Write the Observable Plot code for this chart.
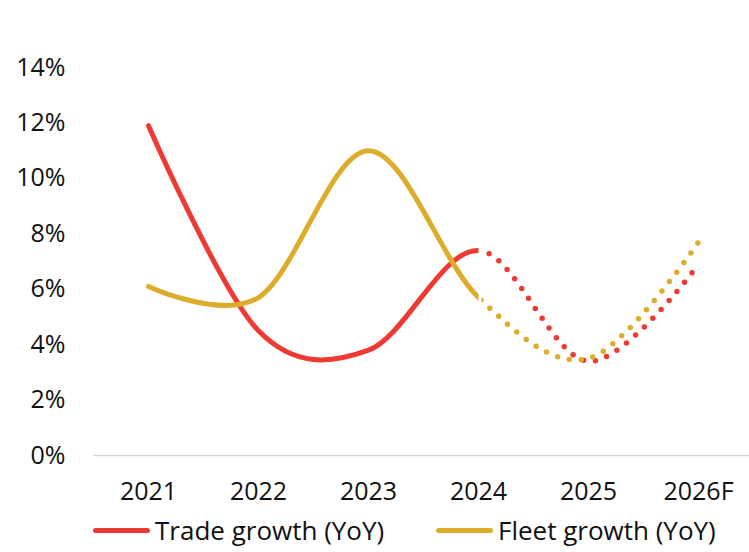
<!DOCTYPE html>
<html>
<head>
<meta charset="utf-8">
<script src="https://cdn.jsdelivr.net/npm/d3@7"></script>
<script src="https://cdn.jsdelivr.net/npm/@observablehq/plot@0.6"></script>
<style>
  html, body { margin: 0; padding: 0; background: #fff; }
  #wrap { position: relative; width: 749px; height: 552px; overflow: hidden; font-family: "Open Sans", sans-serif; color: #111; }
  #legend { position: absolute; left: 0; top: 508px; width: 749px; height: 44px; }
  .item { position: absolute; top: 0; display: flex; align-items: center; height: 44px; font-size: 26px; white-space: nowrap; }
  .sw { width: 57px; height: 5px; border-radius: 3px; margin-right: 5px; }
</style>
</head>
<body>
<div id="wrap"><div id="chart"></div><div id="legend"></div></div>
<script>
// ---- data ----
const years = ["2021", "2022", "2023", "2024", "2025", "2026F"];
const tradeGrowth = [11.9, 4.5, 3.8, 7.4, 3.4, 6.9];
const fleetGrowth = [6.1, 5.7, 11.0, 5.7, 3.5, 7.7];
const forecastStart = "2024";
const seriesNames = ["Trade growth (YoY)", "Fleet growth (YoY)"];
const seriesColors = ["#EE3A33", "#DDAC2B"];
const yTicks = [0, 2, 4, 6, 8, 10, 12, 14];

const rows = [];
years.forEach((yr, i) => {
  rows.push({year: yr, value: tradeGrowth[i], series: seriesNames[0]});
  rows.push({year: yr, value: fleetGrowth[i], series: seriesNames[1]});
});

const W = 749, H = 505;
const chart = Plot.plot({
  width: W,
  height: H,
  marginLeft: 93,
  marginRight: 0,
  marginTop: 67,
  marginBottom: 50,
  style: {fontFamily: "Open Sans, sans-serif", fontSize: "25px", color: "#111", background: "#fff", overflow: "visible"},
  x: {type: "point", domain: years, range: [148, 698], padding: 0, label: null},
  y: {domain: [0, 14], range: [455, 67], label: null},
  color: {domain: seriesNames, range: seriesColors},
  marks: [
    Plot.axisY({ticks: yTicks, tickFormat: d => d + "%", tickSize: 0, tickPadding: 28, fontSize: 25}),
    Plot.axisX({tickSize: 0, tickPadding: 27, fontSize: 25}),
    Plot.ruleY([0], {stroke: "#D9D9D9", strokeWidth: 1.5}),
    // actual (solid) part
    Plot.line(rows, {x: "year", y: "value", z: "series", stroke: "series", curve: "cardinal", tension: 0,
      strokeWidth: 5, strokeLinecap: "round", strokeLinejoin: "round"}),
    // forecast (dotted) part
    Plot.line(rows, {x: "year", y: "value", z: "series", stroke: "series", curve: "cardinal", tension: 0,
      strokeWidth: 5.5, strokeLinecap: "round", strokeDasharray: "0 12"})
  ]
});

// split each full curve into actual (solid) and forecast (dotted) parts at the forecast year
const xs = chart.scale("x").apply(forecastStart);
const ns = "http://www.w3.org/2000/svg";
const defs = document.createElementNS(ns, "defs");
function clip(id, x0, x1) {
  const cp = document.createElementNS(ns, "clipPath");
  cp.setAttribute("id", id);
  const r = document.createElementNS(ns, "rect");
  r.setAttribute("x", x0); r.setAttribute("y", -50);
  r.setAttribute("width", x1 - x0); r.setAttribute("height", H + 100);
  cp.appendChild(r); defs.appendChild(cp);
}
clip("clipSolid", -50, xs);
clip("clipDotted", xs + 3, W + 50);
chart.insertBefore(defs, chart.firstChild);
const lineGroups = chart.querySelectorAll('g[aria-label="line"]');
if (lineGroups.length === 2) {
  lineGroups[0].setAttribute("clip-path", "url(#clipSolid)");
  lineGroups[1].setAttribute("clip-path", "url(#clipDotted)");
}

document.getElementById("chart").appendChild(chart);

// legend
const legend = document.getElementById("legend");
const lefts = [93, 436];
seriesNames.forEach((name, i) => {
  const it = document.createElement("div");
  it.className = "item";
  it.style.left = lefts[i] + "px";
  const sw = document.createElement("span");
  sw.className = "sw";
  sw.style.background = seriesColors[i];
  const tx = document.createElement("span");
  tx.textContent = name;
  it.appendChild(sw); it.appendChild(tx);
  legend.appendChild(it);
});
</script>
</body>
</html>
